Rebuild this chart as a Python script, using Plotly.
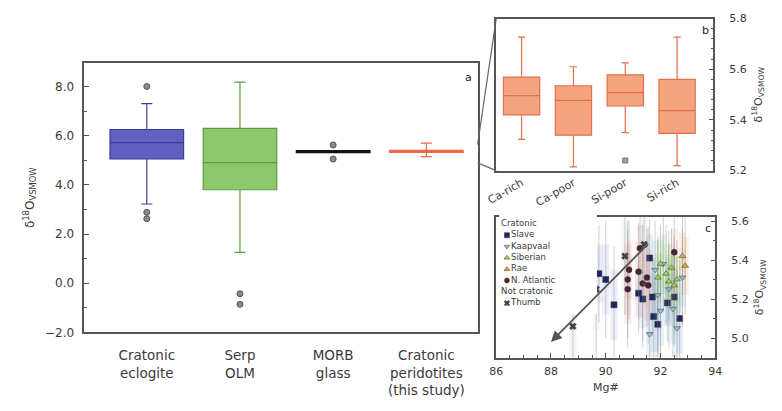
import plotly.graph_objects as go

FONT = "DejaVu Sans"
TXT = "#3a3a3a"
AX = "#555555"

# ---------------- Panel a data ----------------
a_cats = ["Cratonic<br>eclogite", "Serp<br>OLM", "MORB<br>glass", "Cratonic<br>peridotites<br>(this study)"]
a_q1 = [5.05, 3.80, 5.31, 5.32]
a_med = [5.72, 4.90, 5.35, 5.36]
a_q3 = [6.25, 6.30, 5.39, 5.40]
a_lo = [3.22, 1.25, 5.31, 5.15]
a_hi = [7.30, 8.18, 5.39, 5.70]
a_fill = ["#6060bf", "#8ec86c", "#111111", "#f5a07f"]
a_line = ["#3b3b9a", "#5f9c45", "#111111", "#ec6a48"]
a_out_cat = ["Cratonic<br>eclogite"] * 3 + ["Serp<br>OLM"] * 2 + ["MORB<br>glass"] * 2
a_out_val = [8.0, 2.88, 2.62, -0.43, -0.86, 5.62, 5.05]

# ---------------- Panel b data ----------------
b_cats = ["Ca-rich", "Ca-poor", "Si-poor", "Si-rich"]
b_q1 = [5.42, 5.34, 5.455, 5.347]
b_med = [5.496, 5.477, 5.508, 5.437]
b_q3 = [5.569, 5.535, 5.578, 5.56]
b_lo = [5.323, 5.215, 5.35, 5.22]
b_hi = [5.727, 5.61, 5.625, 5.727]
b_out_cat = ["Si-poor"]
b_out_val = [5.24]

# ---------------- Panel c data ----------------
slave_mg = [89.75, 90.0, 90.3, 91.2, 91.35, 91.7, 91.75, 91.9, 92.25, 92.5, 92.7, 91.6]
slave_d = [5.33, 5.30, 5.17, 5.23, 5.20, 5.21, 5.11, 5.07, 5.18, 5.21, 5.10, 5.41]
slave_e = [0.25, 0.30, 0.30, 0.20, 0.25, 0.20, 0.30, 0.30, 0.20, 0.25, 0.30, 0.20]
kaap_mg = [91.6, 91.8, 91.9, 92.0, 92.1, 92.3, 92.6, 92.8, 92.45]
kaap_d = [5.02, 5.35, 5.22, 5.14, 5.38, 5.25, 5.05, 5.31, 5.15]
kaap_e = [0.30, 0.25, 0.30, 0.30, 0.25, 0.30, 0.30, 0.25, 0.30]
sib_mg = [91.9, 92.0, 92.2, 92.3, 92.4, 92.5, 92.6]
sib_d = [5.31, 5.38, 5.33, 5.29, 5.36, 5.27, 5.30]
sib_e = [0.20, 0.20, 0.25, 0.20, 0.20, 0.25, 0.20]
rae_mg = [92.8, 92.9]
rae_d = [5.42, 5.37]
rae_e = [0.20, 0.25]
natl_mg = [90.8, 90.85, 91.2, 91.35, 91.5, 90.8, 92.5, 91.55, 91.25]
natl_d = [5.30, 5.35, 5.34, 5.28, 5.31, 5.25, 5.44, 5.27, 5.46]
natl_e = [0.30, 0.25, 0.25, 0.30, 0.25, 0.30, 0.20, 0.30, 0.20]
thumb_mg = [88.8, 89.65, 90.7, 91.4]
thumb_d = [5.06, 5.25, 5.42, 5.48]
thumb_e = [0.35, 0.35, 0.30, 0.30]
trend_mg = [91.6, 88.0]
trend_d = [5.49, 4.98]

series_c = [
    ("Slave", slave_mg, slave_d, slave_e, "square", "#1c2663", "rgba(120,140,210,0.15)"),
    ("Kaapvaal", kaap_mg, kaap_d, kaap_e, "triangle-down", "#8cc4e2", "rgba(150,205,230,0.22)"),
    ("Siberian", sib_mg, sib_d, sib_e, "triangle-up", "#9ed65a", "rgba(170,225,110,0.25)"),
    ("Rae", rae_mg, rae_d, rae_e, "triangle-up", "#f0a832", "rgba(245,190,140,0.25)"),
    ("N. Atlantic", natl_mg, natl_d, natl_e, "circle", "#4a2230", "rgba(245,185,185,0.25)"),
    ("Thumb", thumb_mg, thumb_d, thumb_e, "x", "#444444", "rgba(190,190,190,0.15)"),
]
legend_rows = [("Cratonic", None, None), ("Slave", "square", "#1c2663"), ("Kaapvaal", "triangle-down", "#8cc4e2"),
               ("Siberian", "triangle-up", "#9ed65a"), ("Rae", "triangle-up", "#f0a832"),
               ("N. Atlantic", "circle", "#4a2230"), ("Not cratonic", None, None), ("Thumb", "x", "#444444")]

W, H = 782, 411
def px(v): return v / W
def py(v): return 1 - v / H

fig = go.Figure()

# Panel a boxes
for i, c in enumerate(a_cats):
    fig.add_trace(go.Box(x=[c], q1=[a_q1[i]], median=[a_med[i]], q3=[a_q3[i]],
                         lowerfence=[a_lo[i]], upperfence=[a_hi[i]], width=0.79,
                         fillcolor=a_fill[i], line=dict(color=a_line[i], width=1.2),
                         whiskerwidth=0.15, boxpoints=False, xaxis="x", yaxis="y"))
fig.add_trace(go.Scatter(x=a_out_cat, y=a_out_val, mode="markers", xaxis="x", yaxis="y",
                         marker=dict(symbol="circle", size=6, color="#8a8a8a",
                                     line=dict(color="#555555", width=1))))

# Panel b boxes
for i, c in enumerate(b_cats):
    fig.add_trace(go.Box(x=[c], q1=[b_q1[i]], median=[b_med[i]], q3=[b_q3[i]],
                         lowerfence=[b_lo[i]], upperfence=[b_hi[i]], width=0.7,
                         fillcolor="#f4a47f", line=dict(color="#e2704a", width=1.2),
                         whiskerwidth=0.2, boxpoints=False, xaxis="x2", yaxis="y2"))
fig.add_trace(go.Scatter(x=b_out_cat, y=b_out_val, mode="markers", xaxis="x2", yaxis="y2",
                         marker=dict(symbol="square", size=5, color="#a0a0a0",
                                     line=dict(color="#777777", width=1))))

# Panel c: halos + points with error bars
for name, xs, ys, es, sym, col, halo in series_c:
    fig.add_trace(go.Scatter(x=xs, y=ys, mode="markers", xaxis="x3", yaxis="y3",
                             marker=dict(size=1, color="rgba(0,0,0,0)"),
                             error_y=dict(type="data", array=[e * 0.6 for e in es], color=halo,
                                          thickness=7, width=0)))
for name, xs, ys, es, sym, col, halo in series_c:
    fig.add_trace(go.Scatter(x=xs, y=ys, mode="markers", xaxis="x3", yaxis="y3",
                             marker=dict(symbol=sym, size=6, color=col,
                                         line=dict(color="#333333", width=0.5)),
                             error_y=dict(type="data", array=es, color="rgba(140,140,140,0.4)",
                                          thickness=1, width=0)))

fig.add_annotation(x=trend_mg[1], y=trend_d[1], ax=trend_mg[0], ay=trend_d[0],
                   xref="x3", yref="y3", axref="x3", ayref="y3", text="",
                   showarrow=True, arrowhead=2, arrowsize=1.2, arrowwidth=1.8, arrowcolor="#555555")

# Manual legend for panel c
for r, (label, sym, col) in enumerate(legend_rows):
    if sym is None:
        fig.add_trace(go.Scatter(x=[0.2], y=[r], mode="text", text=[label], textposition="middle right",
                                 textfont=dict(family=FONT, size=8.5, color=TXT),
                                 xaxis="x4", yaxis="y4", cliponaxis=False))
    else:
        fig.add_trace(go.Scatter(x=[0.8], y=[r], mode="markers+text", text=[label],
                                 textposition="middle right",
                                 textfont=dict(family=FONT, size=8.5, color=TXT),
                                 marker=dict(symbol=sym, size=5, color=col,
                                             line=dict(color="#333333", width=0.5)),
                                 xaxis="x4", yaxis="y4", cliponaxis=False))

axis_common = dict(showline=True, linecolor=AX, linewidth=1.5, mirror=True, showgrid=False,
                   zeroline=False, tickcolor=AX, tickfont=dict(family=FONT, size=12, color=TXT))
ytitle = "δ<sup>18</sup>O<sub>VSMOW</sub>"

fig.update_layout(
    width=W, height=H, margin=dict(l=0, r=0, t=0, b=0),
    paper_bgcolor="white", plot_bgcolor="white", showlegend=False,
    font=dict(family=FONT, color=TXT),
    xaxis=dict(axis_common, domain=[px(76), px(478)], anchor="y", type="category",
               categoryorder="array", categoryarray=a_cats, range=[-0.67, 3.55], ticks="",
               tickfont=dict(family=FONT, size=13.5, color=TXT), ticklabelstandoff=10),
    yaxis=dict(axis_common, domain=[py(337), py(59)], anchor="x", range=[-2, 8.95], dtick=2, tick0=0,
               tickformat=".1f", ticks="inside", ticklen=5, ticklabelstandoff=6,
               minor=dict(dtick=1, ticks="inside", ticklen=3, tickcolor=AX),
               title=dict(text=ytitle, font=dict(family=FONT, size=12, color=TXT), standoff=8)),
    xaxis2=dict(axis_common, domain=[px(497), px(719)], anchor="y2", type="category",
                categoryorder="array", categoryarray=b_cats, range=[-0.49, 3.7], ticks="",
                tickangle=-30, tickfont=dict(family=FONT, size=11, color=TXT)),
    yaxis2=dict(axis_common, domain=[py(170), py(13)], anchor="x2", side="right", range=[5.2, 5.8],
                dtick=0.2, tick0=5.2, tickformat=".1f", ticks="inside", ticklen=5, ticklabelstandoff=12,
                minor=dict(dtick=0.04, ticks="inside", ticklen=3, tickcolor=AX),
                tickfont=dict(family=FONT, size=11, color=TXT),
                title=dict(text=ytitle, font=dict(family=FONT, size=11, color=TXT), standoff=8)),
    xaxis3=dict(axis_common, domain=[px(497), px(721)], anchor="y3", range=[86, 94], dtick=2,
                ticks="inside", ticklen=5, minor=dict(dtick=0.5, ticks="inside", ticklen=3, tickcolor=AX),
                tickfont=dict(family=FONT, size=11, color=TXT), ticklabelstandoff=3,
                title=dict(text="Mg#", font=dict(family=FONT, size=11, color=TXT), standoff=6)),
    yaxis3=dict(axis_common, domain=[py(363), py(218)], anchor="x3", side="right", range=[4.9, 5.62],
                dtick=0.2, tick0=5.0, tickformat=".1f", ticks="inside", ticklen=5, ticklabelstandoff=12,
                minor=dict(dtick=0.1, ticks="inside", ticklen=3, tickcolor=AX),
                tickfont=dict(family=FONT, size=11, color=TXT),
                title=dict(text=ytitle, font=dict(family=FONT, size=11, color=TXT), standoff=8)),
    xaxis4=dict(domain=[px(500), px(600)], anchor="y4", range=[0, 10], visible=False),
    yaxis4=dict(domain=[py(318), py(214)], anchor="x4", range=[7.95, -0.94], visible=False),
)

# zoom connector lines between panel a and b
fig.add_shape(type="line", xref="paper", yref="paper", x0=px(478), y0=py(143), x1=px(497), y1=py(13),
              line=dict(color="#666666", width=1.2))
fig.add_shape(type="line", xref="paper", yref="paper", x0=px(478), y0=py(162), x1=px(497), y1=py(170),
              line=dict(color="#666666", width=1.2))

# panel letters
for letter, xr, yr in [("a", "x domain", "y domain"), ("b", "x2 domain", "y2 domain"), ("c", "x3 domain", "y3 domain")]:
    fig.add_annotation(text=letter, xref=xr, yref=yr, x=0.99, y=0.98, xanchor="right", yanchor="top",
                       showarrow=False, font=dict(family=FONT, size=11, color="#222222"))

fig.write_html("out.html")
